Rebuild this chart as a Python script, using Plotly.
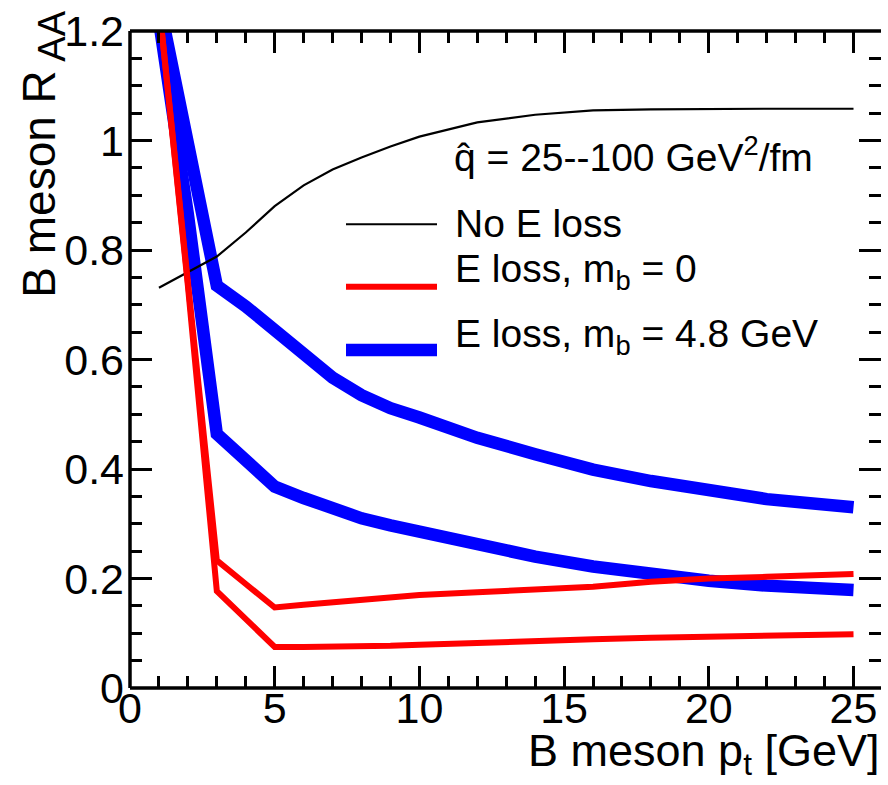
import plotly.graph_objects as go

# B meson transverse momentum grid [GeV]
pt = [1, 2, 3, 4, 5, 6, 7, 8, 9, 10, 12, 14, 16, 18, 20, 22, 25]

# R_AA without energy loss
raa_no_eloss = [0.731, 0.759, 0.788, 0.832, 0.880, 0.918, 0.947, 0.969, 0.989, 1.007,
                1.033, 1.047, 1.055, 1.057, 1.058, 1.058, 1.058]

# R_AA with energy loss, massless b quark (qhat = 25 and 100 GeV^2/fm)
raa_m0_high = [1.25, 0.745, 0.233, 0.190, 0.147, 0.152, 0.157, 0.162, 0.166, 0.170,
               0.175, 0.180, 0.185, 0.194, 0.200, 0.203, 0.208]
raa_m0_low = [1.25, 0.735, 0.177, 0.126, 0.075, 0.075, 0.075, 0.076, 0.077, 0.079,
              0.083, 0.087, 0.089, 0.092, 0.094, 0.096, 0.098]

# R_AA with energy loss, m_b = 4.8 GeV
raa_m48_high = [1.255, 0.990, 0.735, 0.697, 0.655, 0.610, 0.567, 0.535, 0.511, 0.494,
                0.457, 0.427, 0.399, 0.378, 0.361, 0.345, 0.330]
raa_m48_low = [1.22, 0.865, 0.464, 0.413, 0.368, 0.347, 0.327, 0.310, 0.297, 0.285,
               0.263, 0.240, 0.222, 0.208, 0.196, 0.187, 0.179]

x_ticks = [0, 5, 10, 15, 20, 25]
y_ticks = [0, 0.2, 0.4, 0.6, 0.8, 1, 1.2]

legend_labels = ["No E loss", "E loss, m<sub>b</sub> = 0", "E loss, m<sub>b</sub> = 4.8 GeV"]
legend_colors = ["black", "#ff0000", "#0000ff"]
legend_widths = [2.2, 6, 12.5]

FONT = "Liberation Sans, Arial, Helvetica, sans-serif"
W, H = 888, 785
L, R, T, B = 130, 7, 25, 97
PW, PH = W - L - R, H - T - B


def xp(px):
    return (px - L) / PW


def yp(py):
    return (H - B - py) / PH


fig = go.Figure()

for ys in (raa_m48_high, raa_m48_low):
    fig.add_trace(go.Scatter(x=pt, y=ys, mode="lines",
                             line=dict(color="#0000ff", width=12.5), showlegend=False))
fig.add_trace(go.Scatter(x=pt, y=raa_no_eloss, mode="lines",
                         line=dict(color="black", width=2.2), showlegend=False))
for ys in (raa_m0_high, raa_m0_low):
    fig.add_trace(go.Scatter(x=pt, y=ys, mode="lines",
                             line=dict(color="#ff0000", width=6), showlegend=False))

axis_common = dict(
    ticks="inside", ticklen=22, tickwidth=3, tickcolor="black",
    showgrid=False, zeroline=False, showline=False, mirror="ticks",
    tickfont=dict(family=FONT, size=43, color="black"),
)
fig.update_xaxes(range=[0, 25.95], tickvals=x_ticks, ticklabelstandoff=-9,
                 minor=dict(ticks="inside", ticklen=12, tickwidth=3, tickcolor="black", dtick=1),
                 **axis_common)
fig.update_yaxes(range=[0, 1.2], tickvals=y_ticks, ticklabelstandoff=5,
                 minor=dict(ticks="inside", ticklen=12, tickwidth=3, tickcolor="black", dtick=0.05),
                 **axis_common)

shapes = [
    dict(type="line", xref="paper", yref="paper", x0=0, x1=0, y0=0, y1=1,
         line=dict(color="black", width=3.5)),
    dict(type="line", xref="paper", yref="paper", x0=0, x1=1, y0=0, y1=0,
         line=dict(color="black", width=3.5)),
    dict(type="line", xref="paper", yref="paper", x0=0, x1=1, y0=1, y1=1,
         line=dict(color="black", width=3.5)),
]

annotations = []
# legend header
annotations.append(dict(xref="paper", yref="paper", x=xp(452), y=yp(176),
                        xanchor="left", yanchor="bottom", showarrow=False,
                        text="q\u0302 = 25--100 GeV<sup>2</sup>/fm",
                        font=dict(family=FONT, size=39, color="black")))
legend_rows = [220, 283, 347]
text_rows = [219, 268, 333]
for lbl, col, lw, ly, ty in zip(legend_labels, legend_colors, legend_widths, legend_rows, text_rows):
    shapes.append(dict(type="line", xref="paper", yref="paper",
                       x0=xp(346), x1=xp(437), y0=yp(ly), y1=yp(ly),
                       line=dict(color=col, width=lw)))
    annotations.append(dict(xref="paper", yref="paper", x=xp(453), y=yp(ty),
                            xanchor="left", yanchor="middle", showarrow=False,
                            text=lbl, font=dict(family=FONT, size=39, color="black")))

# axis titles
annotations.append(dict(xref="paper", yref="paper", x=xp(881), y=yp(723),
                        xanchor="right", yanchor="top", showarrow=False,
                        text="B meson p<sub>t</sub> [GeV]",
                        font=dict(family=FONT, size=45, color="black")))
annotations.append(dict(xref="paper", yref="paper", x=xp(11), y=yp(3),
                        xanchor="left", yanchor="top", showarrow=False, textangle=-90,
                        text="B meson R<sub><span style='font-size:38px'> AA</span></sub>",
                        font=dict(family=FONT, size=46, color="black")))

fig.update_layout(
    width=W, height=H,
    margin=dict(l=L, r=R, t=T, b=B),
    paper_bgcolor="white", plot_bgcolor="white",
    shapes=shapes, annotations=annotations,
    showlegend=False,
)

fig.write_html("out.html")
